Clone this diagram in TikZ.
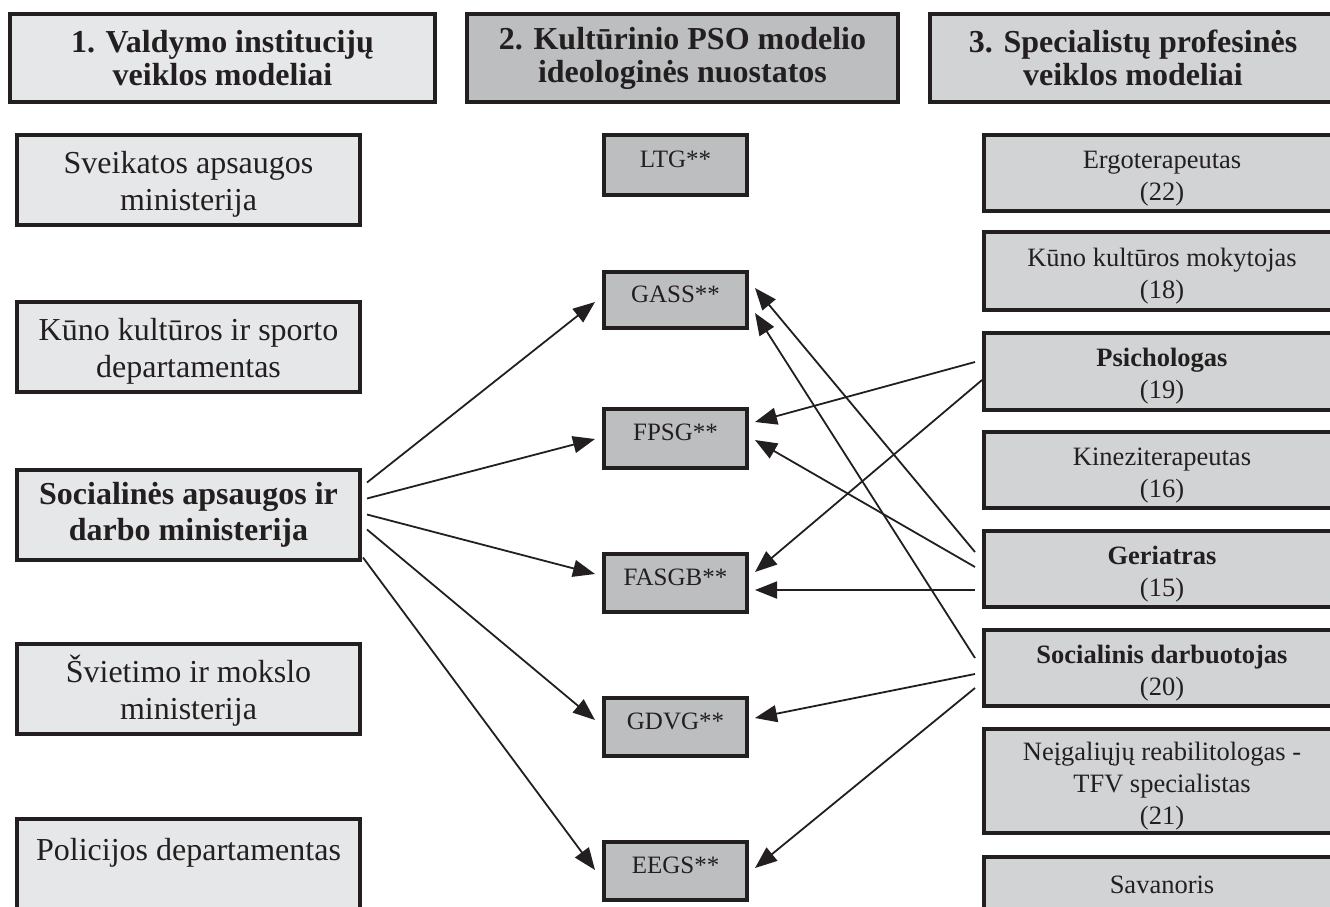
\documentclass[tikz,border=0pt]{standalone}
\usepackage{fontspec}
\setmainfont{Liberation Serif}
\usetikzlibrary{arrows.meta,calc}
\definecolor{ink}{HTML}{231F20}
\definecolor{fillA}{HTML}{E6E7E8}
\definecolor{fillB}{HTML}{BCBEC0}
\definecolor{fillC}{HTML}{D1D3D4}
\newcommand\toprule{\rule{0pt}{28pt}}
\newcommand\lefttop{\rule{0pt}{30pt}}
\begin{document}
\begin{tikzpicture}[x=1pt,y=-1pt,
  box/.style={draw=ink, line width=4pt, inner sep=0pt, align=center, text=ink},
  hdr/.style={box, minimum height=88pt, font=\bfseries\fontsize{32}{33}\selectfont},
  lbox/.style={box, fill=fillA, minimum width=343pt, minimum height=90pt, font=\fontsize{32}{37}\selectfont},
  mbox/.style={box, fill=fillB, minimum width=143pt, text depth=12pt, font=\fontsize{25}{30}\selectfont},
  rbox/.style={box, fill=fillC, minimum width=356pt, minimum height=76pt, font=\fontsize{26.5}{32}\selectfont},
  conn/.style={draw=ink, line width=1.8pt, -{Triangle[length=22pt,width=17pt]}}]
\useasboundingbox (0,0) rectangle (1330,906);
\clip (0,0) rectangle (1330,906);
% headers
\node[hdr, fill=fillA, minimum width=425pt] (h1) at (222.5,58) {1. Valdymo institucijų\\veiklos modeliai};
\node[hdr, fill=fillB, minimum width=431pt] (h2) at (682.5,58) {2. Kultūrinio PSO modelio\\ideologinės nuostatos};
\node[hdr, fill=fillC, minimum width=406pt] (h3) at (1133,58) {3. Specialistų profesinės\\veiklos modeliai};
% left column
\node[lbox] (sv) at (188.5,180) {\lefttop Sveikatos apsaugos\\ministerija};
\node[lbox] (kk) at (188.5,347) {\lefttop Kūno kultūros ir sporto\\departamentas};
\node[lbox, font=\bfseries\fontsize{32}{36}\selectfont] (soc) at (188.5,514.5) {Socialinės apsaugos ir\\darbo ministerija};
\node[lbox] (svm) at (188.5,689) {\lefttop Švietimo ir mokslo\\ministerija};
\node[lbox] (pol) at (188.5,864) {\lefttop Policijos departamentas\\\mbox{}};
% middle column
\node[mbox, minimum height=60pt] (ltg) at (675.5,165) {LTG**};
\node[mbox, minimum height=56pt] (gass) at (675.5,300) {GASS**};
\node[mbox, minimum height=59pt] (fpsg) at (675.5,438.5) {FPSG**};
\node[mbox, minimum height=58pt] (fasgb) at (675.5,583) {FASGB**};
\node[mbox, minimum height=58pt] (gdvg) at (675.5,727) {GDVG**};
\node[mbox, minimum height=58pt] (eegs) at (675.5,871) {EEGS**};
% right column
\node[rbox] (erg) at (1162,173) {\toprule Ergoterapeutas\\(22)};
\node[rbox, minimum height=78pt] (kkm) at (1162,271) {\toprule Kūno kultūros mokytojas\\(18)};
\node[rbox, minimum height=77pt] (psi) at (1162,371.5) {\toprule\textbf{Psichologas}\\(19)};
\node[rbox] (kin) at (1162,470) {\toprule Kineziterapeutas\\(16)};
\node[rbox] (ger) at (1162,569) {\toprule\textbf{Geriatras}\\(15)};
\node[rbox] (sdb) at (1162,668) {\toprule\textbf{Socialinis darbuotojas}\\(20)};
\node[rbox, minimum height=104pt] (nei) at (1162,781) {\toprule Neįgaliųjų reabilitologas -\\TFV specialistas\\(21)};
\node[rbox] (sav) at (1162,895) {\toprule Savanoris\\\mbox{}};
% connectors from Socialinės apsaugos ir darbo ministerija
\draw[conn] ($(soc.north east)+(5,15)$) -- ($(gass.north west)+(-7,32)$);
\draw[conn] ($(soc.north east)+(5,31)$) -- ($(fpsg.north west)+(-7,32)$);
\draw[conn] ($(soc.north east)+(5,47)$) -- ($(fasgb.north west)+(-7,22)$);
\draw[conn] ($(soc.north east)+(5,62)$) -- ($(gdvg.north west)+(-7,24)$);
\draw[conn] ($(soc.north east)+(1,90)$) -- ($(eegs.north west)+(-7,30)$);
% connectors from the specialists
\draw[conn] ($(psi.north west)+(-7,31)$) -- ($(fpsg.north east)+(6,15)$);
\draw[conn] ($(psi.north west)+(0,49)$) -- ($(fasgb.north east)+(6,20)$);
\draw[conn] ($(ger.north west)+(-7,23)$) -- ($(gass.north east)+(6,18)$);
\draw[conn] ($(ger.north west)+(-7,38)$) -- ($(fpsg.north east)+(6,33)$);
\draw[conn] ($(ger.north west)+(-7,61)$) -- ($(fasgb.north east)+(6,38)$);
\draw[conn] ($(sdb.north west)+(-7,30)$) -- ($(gass.north east)+(6,43)$);
\draw[conn] ($(sdb.north west)+(-7,46)$) -- ($(gdvg.north east)+(6,22)$);
\draw[conn] ($(sdb.north west)+(-7,60)$) -- ($(eegs.north east)+(6,28)$);
\end{tikzpicture}
\end{document}
